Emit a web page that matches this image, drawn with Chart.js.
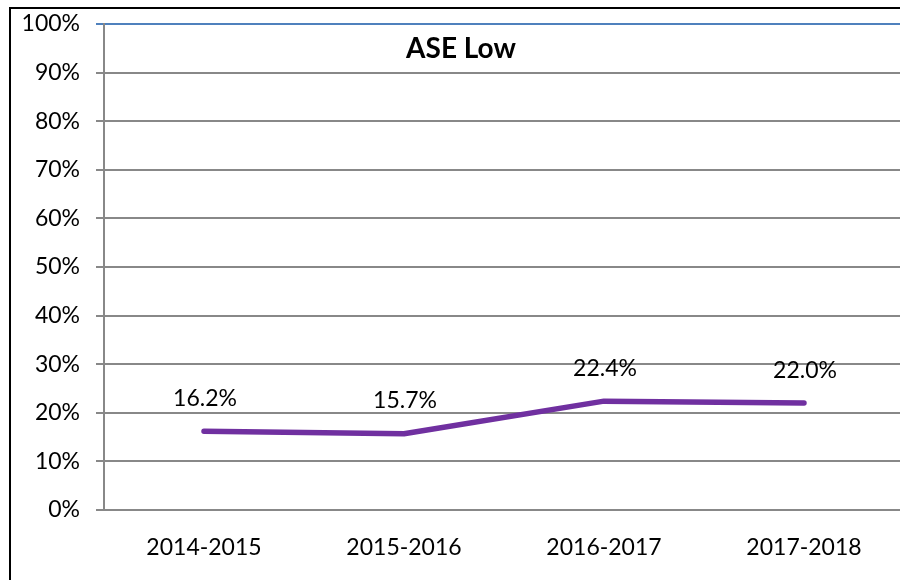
<!DOCTYPE html>
<html>
<head>
<meta charset="utf-8">
<script src="https://cdn.jsdelivr.net/npm/chart.js@4.4.1/dist/chart.umd.min.js"></script>
<style>
  html, body { margin: 0; padding: 0; background: #fff; overflow: hidden; }
  #wrap { position: relative; width: 920px; height: 580px; }
</style>
</head>
<body>
<div id="wrap"><canvas id="c" width="920" height="580"></canvas></div>
<script>
// School years and the share of students rated ASE Low
const years = ['2014-2015', '2015-2016', '2016-2017', '2017-2018'];
const aseLow = [16.2, 15.7, 22.4, 22.0];
const yTicks = [0, 10, 20, 30, 40, 50, 60, 70, 80, 90, 100];
const chartTitle = 'ASE Low';

const FONT = 'Lato, "Open Sans", sans-serif';

// Frame around the whole figure
const framePlugin = {
  id: 'frame',
  afterDraw(chart) {
    const ctx = chart.ctx;
    ctx.save();
    ctx.strokeStyle = '#000';
    ctx.lineWidth = 2;
    ctx.strokeRect(10, 8, chart.width + 20, chart.height + 20);
    ctx.restore();
  }
};

// Title placed inside the plot area
const insideTitle = {
  id: 'insideTitle',
  afterDraw(chart) {
    const { ctx, chartArea } = chart;
    ctx.save();
    ctx.font = 'bold 28px ' + FONT;
    ctx.fillStyle = '#000';
    ctx.textAlign = 'center';
    ctx.textBaseline = 'middle';
    ctx.fillText(chartTitle, chartArea.left + 357, chartArea.top + 25);
    ctx.restore();
  }
};

// Value labels above each point
const valueLabels = {
  id: 'valueLabels',
  afterDatasetsDraw(chart) {
    const ctx = chart.ctx;
    const meta = chart.getDatasetMeta(0);
    const data = chart.data.datasets[0].data;
    ctx.save();
    ctx.font = '23px ' + FONT;
    ctx.fillStyle = '#000';
    ctx.textAlign = 'center';
    ctx.textBaseline = 'middle';
    meta.data.forEach((pt, i) => {
      ctx.fillText(data[i].toFixed(1) + '%', pt.x + 1, pt.y - 33);
    });
    ctx.restore();
  }
};

new Chart(document.getElementById('c'), {
  type: 'line',
  data: {
    labels: years,
    datasets: [{
      label: chartTitle,
      data: aseLow,
      borderColor: '#7030a0',
      backgroundColor: '#7030a0',
      borderWidth: 5.5,
      borderCapStyle: 'round',
      borderJoinStyle: 'round',
      pointRadius: 0,
      pointHoverRadius: 0,
      tension: 0,
      fill: false
    }]
  },
  options: {
    responsive: false,
    animation: false,
    events: [],
    layout: { padding: { left: 0, right: 16, top: 24, bottom: 0 } },
    plugins: {
      legend: { display: false },
      tooltip: { enabled: false },
      title: { display: false }
    },
    scales: {
      x: {
        type: 'category',
        offset: true,
        grid: { display: false, drawTicks: false },
        border: { display: true, color: '#888', width: 2 },
        ticks: {
          color: '#000',
          font: { family: FONT, size: 23 },
          padding: 24,
          maxRotation: 0
        },
        afterFit(scale) {
          scale.height = 70;
          scale.paddingLeft = 0;
          scale.paddingRight = 0;
        }
      },
      y: {
        min: 0,
        max: 100,
        afterBuildTicks(scale) {
          scale.ticks = yTicks.map(v => ({ value: v }));
        },
        grid: {
          color: ctx => (ctx.tick && ctx.tick.value === 100) ? '#4f81bd' : '#888',
          lineWidth: 2,
          drawTicks: true,
          tickLength: 8
        },
        border: { display: true, color: '#888', width: 2 },
        ticks: {
          color: '#000',
          font: { family: FONT, size: 23 },
          padding: 16,
          callback: v => v + '%'
        },
        afterFit(scale) {
          scale.width = 104;
          scale.paddingTop = 0;
          scale.paddingBottom = 0;
        }
      }
    }
  },
  plugins: [framePlugin, insideTitle, valueLabels]
});
</script>
</body>
</html>
